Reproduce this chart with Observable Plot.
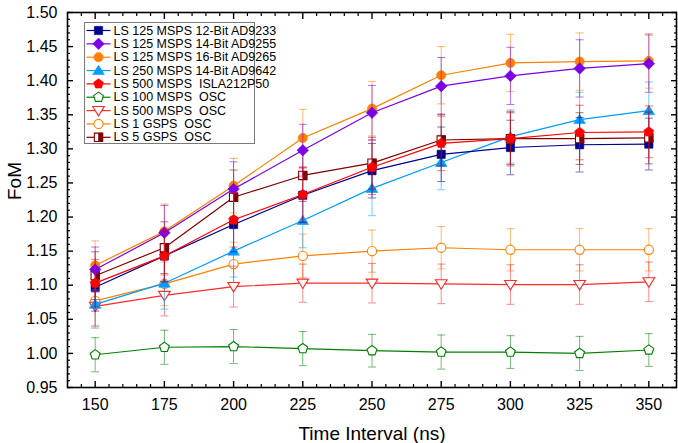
<!DOCTYPE html>
<html><head><meta charset="utf-8">
<script src="https://cdn.jsdelivr.net/npm/d3@7"></script>
<script src="https://cdn.jsdelivr.net/npm/@observablehq/plot@0.6"></script>
<style>body{margin:0;background:#fff} #chart svg{display:block}</style>
</head><body><div id="chart"></div><script>
// ---- data ----
const times = [150, 175, 200, 225, 250, 275, 300, 325, 350];
const ad9233 = [1.097, 1.143, 1.189, 1.232, 1.268, 1.292, 1.302, 1.306, 1.307];
const ad9255 = [1.123, 1.177, 1.241, 1.298, 1.353, 1.392, 1.407, 1.418, 1.425];
const ad9265 = [1.129, 1.179, 1.246, 1.316, 1.359, 1.408, 1.426, 1.428, 1.429];
const ad9642 = [1.072, 1.103, 1.150, 1.195, 1.242, 1.280, 1.318, 1.343, 1.356];
const isla212 = [1.103, 1.143, 1.196, 1.233, 1.273, 1.308, 1.315, 1.324, 1.325];
const osc100 = [0.998, 1.009, 1.010, 1.007, 1.004, 1.002, 1.002, 1.000, 1.005];
const osc500 = [1.069, 1.085, 1.098, 1.103, 1.103, 1.102, 1.101, 1.101, 1.105];
const osc1g = [1.077, 1.102, 1.131, 1.143, 1.150, 1.155, 1.152, 1.152, 1.152];
const osc5g = [1.114, 1.155, 1.229, 1.261, 1.279, 1.313, 1.315, 1.315, 1.316];

const errAd9233 = [0.035, 0.038, 0.040, 0.040, 0.040, 0.040, 0.040, 0.040, 0.038];
const errAd9255 = [0.033, 0.040, 0.040, 0.038, 0.040, 0.042, 0.042, 0.042, 0.042];
const errAd9265 = [0.036, 0.040, 0.040, 0.042, 0.040, 0.042, 0.042, 0.042, 0.040];
const errAd9642 = [0.035, 0.038, 0.038, 0.040, 0.040, 0.040, 0.039, 0.040, 0.042];
const errIsla212 = [0.035, 0.038, 0.040, 0.040, 0.040, 0.040, 0.040, 0.040, 0.038];
const errOsc100 = [0.025, 0.025, 0.025, 0.025, 0.024, 0.025, 0.024, 0.025, 0.024];
const errOsc500 = [0.030, 0.030, 0.030, 0.028, 0.029, 0.029, 0.029, 0.029, 0.029];
const errOsc1g = [0.036, 0.032, 0.032, 0.032, 0.031, 0.031, 0.031, 0.031, 0.031];
const errOsc5g = [0.035, 0.038, 0.040, 0.038, 0.038, 0.038, 0.038, 0.038, 0.038];

const names = [
  "LS 125 MSPS 12-Bit AD9233",
  "LS 125 MSPS 14-Bit AD9255",
  "LS 125 MSPS 16-Bit AD9265",
  "LS 250 MSPS 14-Bit AD9642",
  "LS 500 MSPS  ISLA212P50",
  "LS 100 MSPS  OSC",
  "LS 500 MSPS  OSC",
  "LS 1 GSPS  OSC",
  "LS 5 GSPS  OSC"
];
const xMajor = [150, 175, 200, 225, 250, 275, 300, 325, 350];
const yMajor = [0.95, 1.00, 1.05, 1.10, 1.15, 1.20, 1.25, 1.30, 1.35, 1.40, 1.45, 1.50];

// ---- symbols ----
function sym(fn) { return { draw(c, size) { fn(c, Math.sqrt(size / Math.PI)); } }; }
const square = sym((c, r) => { const s = r * 0.9; c.moveTo(-s, -s); c.lineTo(s, -s); c.lineTo(s, s); c.lineTo(-s, s); c.closePath(); });
const halfRight = sym((c, r) => { const s = r * 0.9; c.moveTo(0, -s); c.lineTo(s, -s); c.lineTo(s, s); c.lineTo(0, s); c.closePath(); });
const diamond = sym((c, r) => { const s = r * 1.25; c.moveTo(0, -s); c.lineTo(s, 0); c.lineTo(0, s); c.lineTo(-s, 0); c.closePath(); });
const circle = sym((c, r) => { c.moveTo(r, 0); c.arc(0, 0, r, 0, 2 * Math.PI); c.closePath(); });
const triUp = sym((c, r) => { const s = r * 1.1; c.moveTo(0, -s * 1.05); c.lineTo(s * 1.15, s * 0.8); c.lineTo(-s * 1.15, s * 0.8); c.closePath(); });
const triDown = sym((c, r) => { const s = r * 1.1; c.moveTo(0, s * 1.05); c.lineTo(s * 1.15, -s * 0.8); c.lineTo(-s * 1.15, -s * 0.8); c.closePath(); });
const pentagon = sym((c, r) => { const s = r * 1.12; for (let i = 0; i < 5; i++) { const a = -Math.PI / 2 + i * 2 * Math.PI / 5; const x = s * Math.cos(a), y = s * Math.sin(a); i ? c.lineTo(x, y) : c.moveTo(x, y); } c.closePath(); });
const cap = sym((c, r) => { c.moveTo(-r, 0); c.lineTo(r, 0); });
const legendLine = { draw(c) { c.moveTo(-12, 0); c.lineTo(12, 0); } };

const series = [
  { name: names[0], v: ad9233, e: errAd9233, color: "#00008f", symbol: square, filled: true },
  { name: names[1], v: ad9255, e: errAd9255, color: "#7a00e6", symbol: diamond, filled: true },
  { name: names[2], v: ad9265, e: errAd9265, color: "#ff8000", symbol: circle, filled: true },
  { name: names[3], v: ad9642, e: errAd9642, color: "#009cff", symbol: triUp, filled: true },
  { name: names[4], v: isla212, e: errIsla212, color: "#ff0000", symbol: pentagon, filled: true },
  { name: names[5], v: osc100, e: errOsc100, color: "#008000", symbol: pentagon, filled: false },
  { name: names[6], v: osc500, e: errOsc500, color: "#ff2a2a", symbol: triDown, filled: false },
  { name: names[7], v: osc1g, e: errOsc1g, color: "#ff8000", symbol: circle, filled: false },
  { name: names[8], v: osc5g, e: errOsc5g, color: "#800000", symbol: square, filled: false, half: true }
];
series.forEach(s => { s.rows = times.map((t, i) => ({ t, y: s.v[i], lo: s.v[i] - s.e[i], hi: s.v[i] + s.e[i] })); });

const drawOrder = [7, 6, 5, 3, 0, 8, 2, 1, 4];
const marks = [];
for (const k of drawOrder) {
  const s = series[k];
  marks.push(
    Plot.ruleX(s.rows, { x: "t", y1: "lo", y2: "hi", stroke: s.color, strokeOpacity: 0.55, strokeWidth: 1 }),
    Plot.dot(s.rows, { x: "t", y: "lo", symbol: cap, r: 4, stroke: s.color, strokeOpacity: 0.55, strokeWidth: 1 }),
    Plot.dot(s.rows, { x: "t", y: "hi", symbol: cap, r: 4, stroke: s.color, strokeOpacity: 0.55, strokeWidth: 1 }),
    Plot.line(s.rows, { x: "t", y: "y", stroke: s.color, strokeWidth: 1.2 }),
    Plot.dot(s.rows, { x: "t", y: "y", symbol: s.symbol, r: 4.6, fill: s.filled ? s.color : "white", stroke: s.color, strokeWidth: s.filled ? 0.6 : 1.1 })
  );
  if (s.half) marks.push(Plot.dot(s.rows, { x: "t", y: "y", symbol: halfRight, r: 4.6, fill: s.color, stroke: s.color, strokeWidth: 0.6 }));
}

// legend (drawn with Plot marks, pixel-anchored to the frame's top-left)
const legendMarks = [Plot.frame({ stroke: "#7a7a7a", strokeWidth: 1, fill: "white", insetLeft: 17, insetTop: 10, insetRight: 422, insetBottom: 244 })];
series.forEach((s, i) => {
  const dy = 18 + i * 13.35;
  legendMarks.push(
    Plot.dot([s.name], { frameAnchor: "top-left", dx: 31, dy, symbol: legendLine, r: 4, stroke: s.color, strokeWidth: 1.2 }),
    Plot.dot([s.name], { frameAnchor: "top-left", dx: 31, dy, symbol: s.symbol, r: 4.6, fill: s.filled ? s.color : "white", stroke: s.color, strokeWidth: s.filled ? 0.6 : 1.1 })
  );
  if (s.half) legendMarks.push(Plot.dot([s.name], { frameAnchor: "top-left", dx: 31, dy, symbol: halfRight, r: 4.6, fill: s.color, stroke: s.color, strokeWidth: 0.6 }));
  legendMarks.push(Plot.text([s.name], { frameAnchor: "top-left", dx: 46, dy, textAnchor: "start", lineAnchor: "middle", fontSize: 12.5, fill: "black" }));
});

const xMinor = d3.range(145, 356, 5).filter(v => !xMajor.includes(v));
const yMinor = d3.range(95, 151, 1).map(v => v / 100).filter(v => !yMajor.some(m => Math.abs(m - v) < 1e-9));

const chart = Plot.plot({
  width: 678, height: 443,
  marginLeft: 67, marginRight: 2, marginTop: 12, marginBottom: 56,
  style: { fontFamily: "'Liberation Sans', Arial, sans-serif", color: "black", background: "white" },
  x: { domain: [140, 360] },
  y: { domain: [0.95, 1.50] },
  marks: [
    ...marks,
    Plot.axisX({ anchor: "bottom", ticks: xMajor, tickSize: -6, tickPadding: 17, fontSize: 16, strokeWidth: 1.4, label: null, tickFormat: d => String(d) }),
    Plot.axisX({ anchor: "bottom", ticks: xMinor, tickSize: -3, text: null, label: null, strokeWidth: 1.2 }),
    Plot.axisX({ anchor: "top", ticks: xMajor, tickSize: -6, text: null, label: null, strokeWidth: 1.4 }),
    Plot.axisX({ anchor: "top", ticks: xMinor, tickSize: -3, text: null, label: null, strokeWidth: 1.2 }),
    Plot.axisY({ anchor: "left", ticks: yMajor, tickSize: -6, tickPadding: 16, fontSize: 16, strokeWidth: 1.4, label: null, tickFormat: d3.format(".2f") }),
    Plot.axisY({ anchor: "left", ticks: yMinor, tickSize: -3, text: null, label: null, strokeWidth: 1.2 }),
    Plot.axisY({ anchor: "right", ticks: yMajor, tickSize: -6, text: null, label: null, strokeWidth: 1.4 }),
    Plot.axisY({ anchor: "right", ticks: yMinor, tickSize: -3, text: null, label: null, strokeWidth: 1.2 }),
    Plot.frame({ stroke: "black", strokeWidth: 1.6 }),
    Plot.text(["Time Interval (ns)"], { frameAnchor: "bottom", dy: 46, fontSize: 19, lineAnchor: "middle", fill: "black" }),
    Plot.text(["FoM"], { frameAnchor: "left", dx: -53, rotate: -90, fontSize: 19, lineAnchor: "middle", fill: "black" }),
    ...legendMarks
  ]
});
document.getElementById("chart").appendChild(chart);
</script></body></html>
